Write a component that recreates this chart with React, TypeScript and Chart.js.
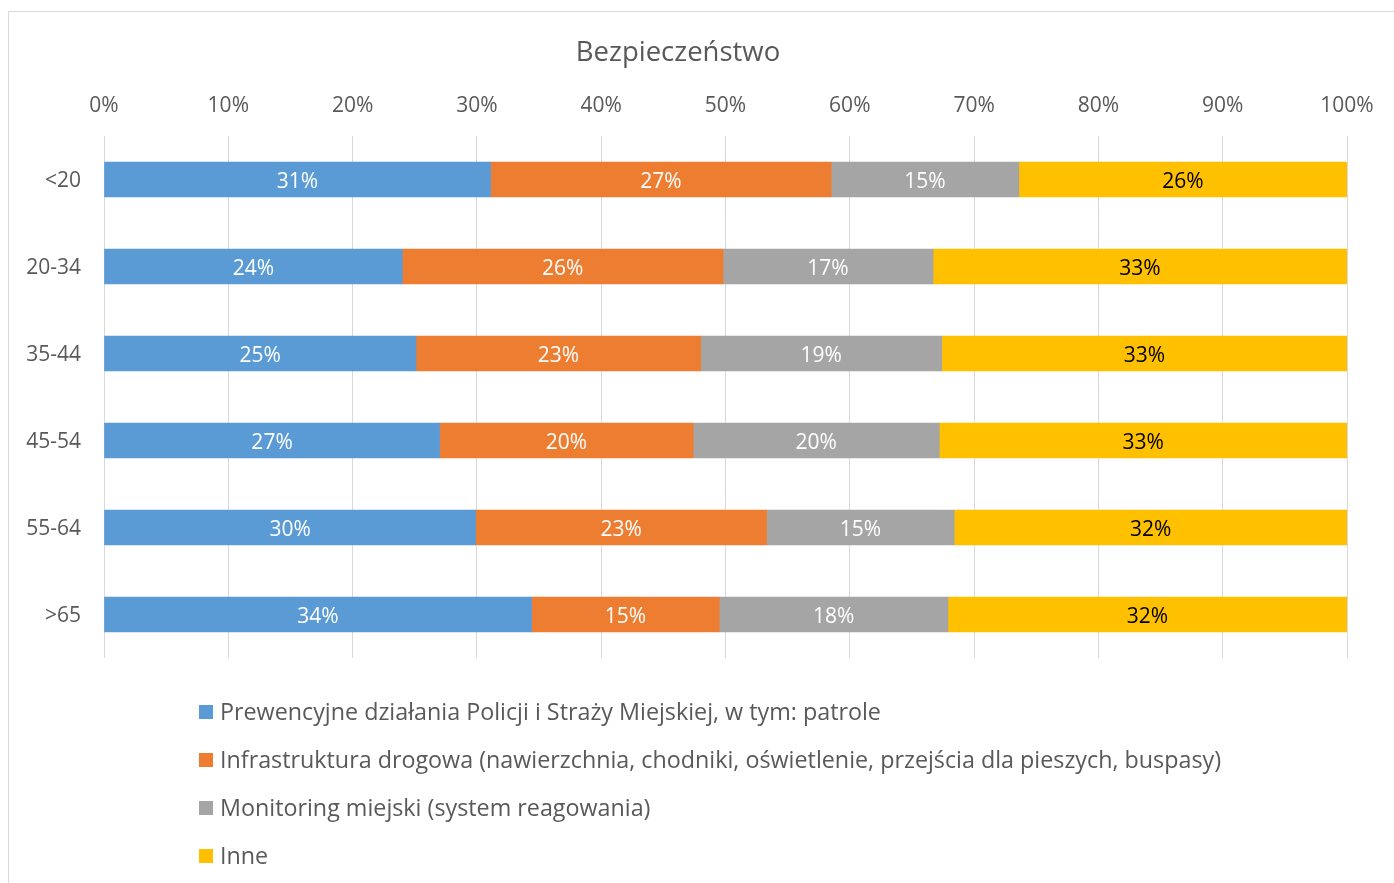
import React, { useEffect, useRef } from "react";
import { Chart, registerables } from "chart.js";

Chart.register(...registerables);

const chartTitle = "Bezpieczeństwo";
const categories = ["<20", "20-34", "35-44", "45-54", "55-64", ">65"];
const seriesNames = [
  "Prewencyjne działania Policji i Straży Miejskiej, w tym: patrole",
  "Infrastruktura drogowa (nawierzchnia, chodniki, oświetlenie, przejścia dla pieszych, buspasy)",
  "Monitoring miejski (system reagowania)",
  "Inne",
];
const prewencja = [31.1, 24.0, 25.1, 27.0, 29.9, 34.4];
const infrastruktura = [27.4, 25.8, 22.9, 20.4, 23.4, 15.1];
const monitoring = [15.1, 16.9, 19.4, 19.8, 15.1, 18.4];
const inne = [26.4, 33.3, 32.6, 32.8, 31.6, 32.1];
const seriesColors = ["#5B9BD5", "#ED7D31", "#A5A5A5", "#FFC000"];
const labelColors = ["#FFFFFF", "#FFFFFF", "#FFFFFF", "#000000"];

const FONT = "'Open Sans'";
const TEXT = "#595959";

const dataLabelPlugin = {
  id: "dataLabels",
  afterDatasetsDraw(chart: any) {
    const ctx = chart.ctx;
    ctx.save();
    ctx.font = `21px ${FONT}`;
    ctx.textAlign = "center";
    ctx.textBaseline = "middle";
    chart.data.datasets.forEach((ds: any, i: number) => {
      const meta = chart.getDatasetMeta(i);
      meta.data.forEach((el: any, j: number) => {
        const v = ds.data[j];
        const cx = (el.x + el.base) / 2;
        ctx.fillStyle = labelColors[i];
        ctx.fillText(Math.round(v) + "%", cx, el.y + 2.5);
      });
    });
    ctx.restore();
  },
};

const legendPlugin = {
  id: "vertLegend",
  afterDraw(chart: any) {
    const ctx = chart.ctx;
    ctx.save();
    ctx.font = `23.3px ${FONT}`;
    ctx.textAlign = "left";
    ctx.textBaseline = "middle";
    chart.data.datasets.forEach((ds: any, i: number) => {
      const y = 700 + i * 48;
      ctx.fillStyle = ds.backgroundColor;
      ctx.fillRect(190, y - 7, 14, 14);
      ctx.fillStyle = TEXT;
      ctx.fillText(ds.label, 211, y + 1);
    });
    ctx.restore();
  },
};

export default function App() {
  const ref = useRef<HTMLCanvasElement>(null);
  useEffect(() => {
    if (!ref.current) return;
    const series = [prewencja, infrastruktura, monitoring, inne];
    const chart = new Chart(ref.current, {
      type: "bar",
      data: {
        labels: categories,
        datasets: series.map((d, i) => ({
          label: seriesNames[i],
          data: d,
          backgroundColor: seriesColors[i],
          borderWidth: 0,
          barThickness: 35,
        })),
      },
      options: {
        indexAxis: "y",
        responsive: false,
        animation: false,
        layout: { padding: { left: 0, right: 47, top: 0, bottom: 225 } },
        plugins: {
          legend: { display: false },
          tooltip: { enabled: false },
          title: {
            display: true,
            text: chartTitle,
            color: TEXT,
            font: { family: FONT, size: 27.5, weight: "normal" },
            padding: { top: 24.5, bottom: 0 },
          },
        },
        scales: {
          x: {
            position: "top",
            stacked: true,
            min: 0,
            max: 100,
            ticks: {
              stepSize: 10,
              callback: (v: any) => v + "%",
              color: TEXT,
              font: { family: FONT, size: 21 },
              padding: 17.4,
              maxRotation: 0,
            },
            grid: { color: "#D9D9D9", drawTicks: false },
            border: { display: false },
            afterFit: (s: any) => {
              s.height = 66.5;
            },
          },
          y: {
            stacked: true,
            ticks: {
              color: TEXT,
              font: { family: FONT, size: 21 },
              padding: 23,
              labelOffset: 2,
            },
            grid: { display: false, drawTicks: false },
            border: { display: false },
            afterFit: (s: any) => {
              s.width = 95;
            },
          },
        },
      } as any,
      plugins: [dataLabelPlugin, legendPlugin],
    });
    return () => chart.destroy();
  }, []);

  return (
    <div
      style={{
        position: "fixed",
        left: 8,
        top: 11,
        width: 1400,
        height: 900,
        border: "1px solid #D9D9D9",
        background: "#fff",
      }}
    >
      <canvas
        ref={ref}
        width={1385}
        height={871}
        style={{ position: "absolute", left: 0, top: 0, width: 1385, height: 871 }}
      />
    </div>
  );
}
